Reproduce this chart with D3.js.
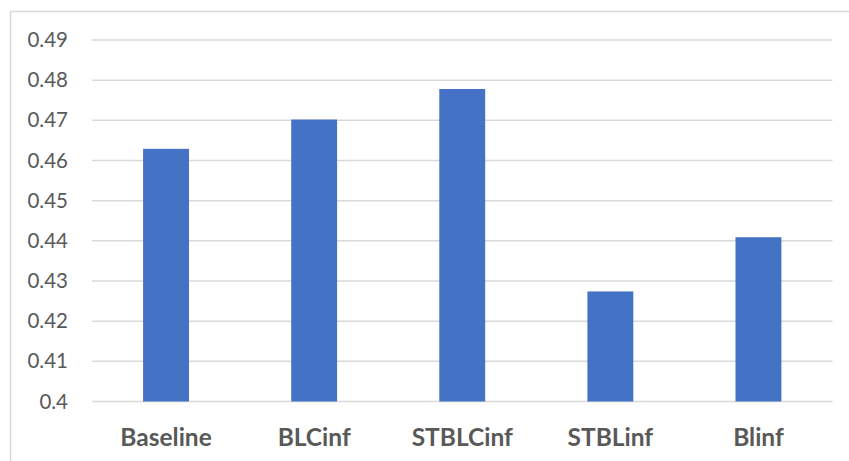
<!DOCTYPE html>
<html>
<head>
<meta charset="utf-8">
<script src="https://cdn.jsdelivr.net/npm/d3@7"></script>
<style>
  html, body { margin: 0; padding: 0; background: #fff; }
  svg { display: block; }
</style>
</head>
<body>
<svg id="chart" width="849" height="461"></svg>
<script>
const categories = ["Baseline", "BLCinf", "STBLCinf", "STBLinf", "Blinf"];
const values = [0.4629, 0.4702, 0.4778, 0.4274, 0.4409];
const yTicks = [0.4, 0.41, 0.42, 0.43, 0.44, 0.45, 0.46, 0.47, 0.48, 0.49];

const svg = d3.select("#chart");
const W = 849, H = 461;
const plot = { left: 92, right: 832.5, top: 40, bottom: 401.5 };
const font = "Lato, 'Open Sans', sans-serif";

// chart border
svg.append("rect")
  .attr("x", 10.5).attr("y", 11.5)
  .attr("width", W + 10).attr("height", H + 10)
  .attr("fill", "#fff").attr("stroke", "#d9d9d9").attr("stroke-width", 1.5);

const x = d3.scaleBand().domain(categories).range([plot.left, plot.right]).paddingInner(0.69).paddingOuter(0.345);
const y = d3.scaleLinear().domain([0.4, 0.49]).range([plot.bottom, plot.top]);

// gridlines
svg.append("g")
  .selectAll("line").data(yTicks).join("line")
  .attr("x1", plot.left).attr("x2", plot.right)
  .attr("y1", d => y(d)).attr("y2", d => y(d))
  .attr("stroke", "#d9d9d9").attr("stroke-width", 1.5);

// y labels
const yAxis = d3.axisLeft(y).tickValues(yTicks).tickSize(0).tickPadding(0)
  .tickFormat(d => String(+d.toFixed(2)));
const ya = svg.append("g").attr("transform", `translate(68,0)`).call(yAxis);
ya.select(".domain").remove();
ya.selectAll("text").attr("font-family", font).attr("font-size", 20.5).attr("fill", "#595959");

// bars
svg.append("g").selectAll("rect").data(categories).join("rect")
  .attr("x", d => x(d)).attr("width", x.bandwidth())
  .attr("y", (d, i) => y(values[i]))
  .attr("height", (d, i) => y(0.4) - y(values[i]))
  .attr("fill", "#4472c4");

// x labels
const xAxis = d3.axisBottom(x).tickSize(0).tickPadding(0);
const xa = svg.append("g").attr("transform", `translate(0,${plot.bottom})`).call(xAxis);
xa.select(".domain").remove();
xa.selectAll("text").attr("font-family", font).attr("font-size", 24.5).attr("font-weight", "bold")
  .attr("fill", "#595959").attr("dy", null).attr("y", 44);
</script>
</body>
</html>
